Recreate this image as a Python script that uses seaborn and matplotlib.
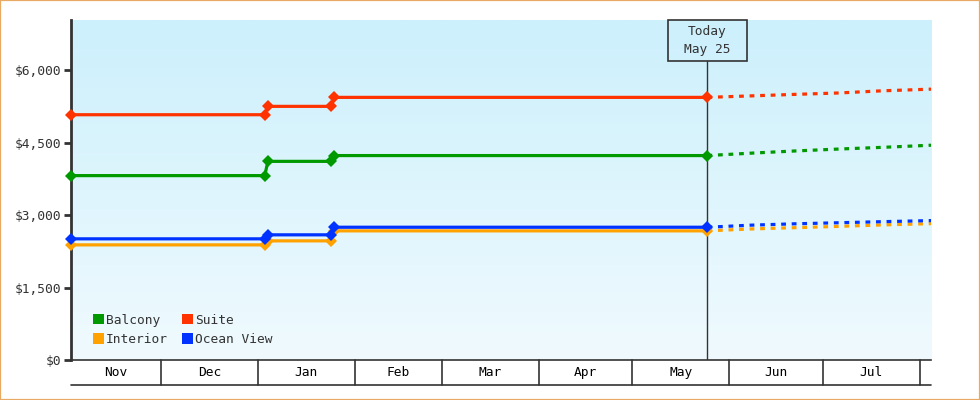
import pandas as pd
import numpy as np
import matplotlib
matplotlib.use("Agg")
import matplotlib.pyplot as plt
from matplotlib.patches import Patch, Rectangle
from matplotlib.colors import LinearSegmentedColormap
import seaborn as sns

# cabin categories and colours
cabins = ["Balcony", "Suite", "Interior", "Ocean View"]
colors = ["#009900", "#ff3300", "#ffa200", "#0033ff"]

# observed fares (step changes in January)
hist_dates = ["2024-11-02 05:00", "2025-01-03 06:00", "2025-01-04 06:00",
              "2025-01-24 12:00", "2025-01-25 10:00", "2025-05-25 00:00"]
balcony_hist = [3815, 3815, 4110, 4110, 4230, 4230]
suite_hist = [5075, 5075, 5248, 5248, 5434, 5434]
interior_hist = [2382, 2382, 2465, 2465, 2672, 2672]
ocean_hist = [2507, 2507, 2590, 2590, 2747, 2747]

# projected fares after today
proj_dates = ["2025-05-25", "2025-06-08", "2025-06-22", "2025-07-06",
              "2025-07-20", "2025-08-05"]
balcony_proj = [4230, 4280, 4325, 4365, 4400, 4445]
suite_proj = [5434, 5465, 5496, 5525, 5570, 5605]
interior_proj = [2672, 2712, 2738, 2765, 2795, 2822]
ocean_proj = [2747, 2790, 2818, 2840, 2862, 2885]

today = pd.Timestamp("2025-05-25")
x_start = pd.Timestamp("2024-11-02 05:00")
x_end = pd.Timestamp("2025-08-04 14:00")

y_ticks = [0, 1500, 3000, 4500, 6000]

hist_values = [balcony_hist, suite_hist, interior_hist, ocean_hist]
proj_values = [balcony_proj, suite_proj, interior_proj, ocean_proj]

rows = []
for cabin, vals in zip(cabins, hist_values):
    for d, v in zip(hist_dates, vals):
        rows.append({"date": pd.Timestamp(d), "cabin": cabin, "price": v})
hist = pd.DataFrame(rows)

rows = []
for cabin, vals in zip(cabins, proj_values):
    for d, v in zip(proj_dates, vals):
        rows.append({"date": pd.Timestamp(d), "cabin": cabin, "price": v})
proj = pd.DataFrame(rows)

sns.set_style("white")
plt.rcParams["font.family"] = ["DejaVu Sans Mono"]
fs = 9.3
dark = "#333333"

fig = plt.figure(figsize=(9.8, 4), dpi=100)
ax = fig.add_axes([71 / 980, 40 / 400, 860 / 980, 340 / 400])

sns.lineplot(data=hist, x="date", y="price", hue="cabin", hue_order=cabins,
             palette=colors, marker="D", markersize=6.5, markeredgewidth=0,
             linewidth=2.3, legend=False, ax=ax, clip_on=False, zorder=4)
sns.lineplot(data=proj, x="date", y="price", hue="cabin", hue_order=cabins,
             palette=colors, linewidth=2.3, linestyle=(0, (1.5, 1.8)),
             legend=False, ax=ax, zorder=3)

# gradient background
cmap = LinearSegmentedColormap.from_list("bg", ["#f0fafe", "#ccf0fc"])
ax.imshow(np.linspace(0, 1, 256).reshape(-1, 1), cmap=cmap, origin="lower",
          extent=[0, 1, 0, 1], transform=ax.transAxes, aspect="auto", zorder=0)

ax.set_xlim(x_start, x_end)
ax.set_ylim(0, 7035)
ax.set_xlabel("")
ax.set_ylabel("")

ax.set_yticks(y_ticks)
ax.set_yticklabels([f"${v:,}" for v in y_ticks])
ax.tick_params(axis="y", left=True, length=5, width=2, color=dark, pad=2,
               labelsize=fs, labelcolor=dark)
ax.tick_params(axis="x", bottom=False, labelbottom=False)

for s in ["top", "right"]:
    ax.spines[s].set_visible(False)
ax.spines["left"].set_linewidth(2)
ax.spines["left"].set_color(dark)
ax.spines["bottom"].set_linewidth(1.2)
ax.spines["bottom"].set_color(dark)

# month table under the plot
band = 25 / 340
trans = ax.get_xaxis_transform()
months = pd.date_range("2024-12-01", "2025-08-01", freq="MS")
for m in months:
    ax.plot([m, m], [0, -band], transform=trans, color=dark, lw=1.2, clip_on=False)
ax.plot([0, 1], [-band, -band], transform=ax.transAxes, color=dark, lw=1.2, clip_on=False)
edges = [x_start] + list(months) + [x_end]
for a, b in zip(edges[:-1], edges[1:]):
    if (b - a).days > 15:
        mid = a + (b - a) / 2
        ax.text(mid, -band / 2, a.strftime("%b"), transform=trans,
                ha="center", va="center", fontsize=fs, color="black")

# today marker
ax.axvline(today, ymin=0, ymax=1 - 41 / 340, color=dark, lw=1, zorder=2)
x_frac = (today - x_start) / (x_end - x_start)
ax.add_patch(Rectangle((x_frac - 39.5 / 860, 1 - 41 / 340), 79 / 860, 41 / 340,
                       transform=ax.transAxes, fill=False, ec=dark, lw=1.2,
                       clip_on=False, zorder=5))
ax.text(x_frac, 1 - 12 / 340, "Today", transform=ax.transAxes, ha="center",
        va="center", fontsize=fs, color=dark)
ax.text(x_frac, 1 - 30 / 340, "May 25", transform=ax.transAxes, ha="center",
        va="center", fontsize=fs, color=dark)

# legend
order = [0, 2, 1, 3]
handles = [Patch(facecolor=colors[i], edgecolor="none", label=cabins[i]) for i in order]
leg = ax.legend(handles=handles, ncol=2, loc="lower left",
                bbox_to_anchor=(22 / 860, 14 / 340), frameon=False,
                handlelength=0.85, handleheight=0.85, handletextpad=0.15,
                columnspacing=1.1, borderpad=0, borderaxespad=0,
                labelspacing=0.5, fontsize=fs)
for t in leg.get_texts():
    t.set_color(dark)

# figure border
fig.patches.append(Rectangle((0, 0), 1, 1, transform=fig.transFigure, fill=False,
                             ec="#e8a965", lw=1.6))

fig.savefig("out.png", dpi=100)
